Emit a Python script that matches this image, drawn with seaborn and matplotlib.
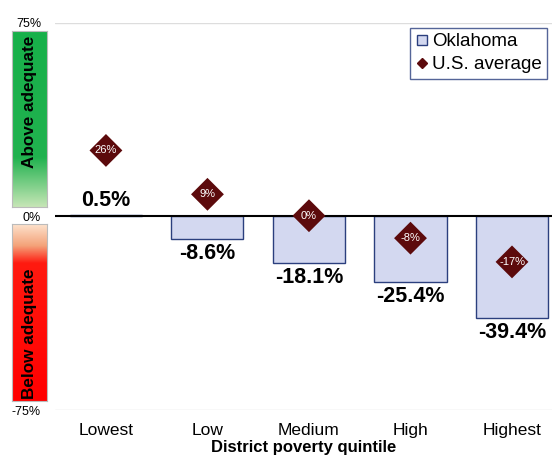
import numpy as np
import matplotlib
matplotlib.use("Agg")
import matplotlib.pyplot as plt
import seaborn as sns
from matplotlib.colors import LinearSegmentedColormap
from matplotlib.lines import Line2D

sns.set_style("white")
plt.rcParams['font.family'] = ['Liberation Sans', 'DejaVu Sans']
plt.rcParams['text.color'] = 'black'
plt.rcParams['axes.labelcolor'] = 'black'
plt.rcParams['xtick.color'] = 'black'
plt.rcParams['ytick.color'] = 'black'

# Data
quintiles = ['Lowest', 'Low', 'Medium', 'High', 'Highest']
oklahoma = [0.5, -8.6, -18.1, -25.4, -39.4]
us_average = [25.6, 8.6, 0.3, -8.4, -17.6]
us_labels = ['26%', '9%', '0%', '-8%', '-17%']

bar_face = '#d3d8f0'
bar_edge = '#2b3f7e'
diamond_col = '#5c0a0c'

fig = plt.figure(figsize=(5.52, 4.55), dpi=100)
ax = fig.add_axes([0.0996, 0.0989, 0.9004, 0.8506])

sns.barplot(x=quintiles, y=oklahoma, color=bar_face, edgecolor=bar_edge,
            linewidth=1.0, saturation=1, width=0.71, ax=ax, zorder=2)
ax.axhline(0, color='black', lw=1.5, zorder=2.5)
sns.scatterplot(x=np.arange(len(quintiles)), y=us_average, marker='D', s=280,
                color=diamond_col, edgecolor='none', ax=ax, zorder=4, legend=False)

for i, (v, lab) in enumerate(zip(us_average, us_labels)):
    ax.text(i, v, lab, color='white', fontsize=8, ha='center', va='center', zorder=5)

for i, v in enumerate(oklahoma):
    if v >= 0:
        ax.annotate(f'{v:.1f}%', (i, v), xytext=(0, 3), textcoords='offset points',
                    ha='center', va='bottom', fontsize=15.5, fontweight='bold')
    else:
        ax.annotate(f'{v:.1f}%', (i, v), xytext=(0, -3), textcoords='offset points',
                    ha='center', va='top', fontsize=15.5, fontweight='bold')

ax.set_ylim(-75, 75)
ax.set_xlim(-0.502, 4.394)
ax.set_yticks([-75, 0, 75])
ax.set_yticklabels(['-75%', '0%', '75%'], fontsize=9)
ax.tick_params(axis='y', length=0, pad=10)
ax.tick_params(axis='x', length=0, labelsize=12.5, pad=9)
for y in (-75, 75):
    ax.axhline(y, color='#dddddd', lw=1, zorder=0)
for s in ax.spines.values():
    s.set_visible(False)
ax.set_xlabel('District poverty quintile', fontsize=12, fontweight='bold', labelpad=2)

handles = [
    Line2D([], [], marker='s', ls='none', markersize=6.5, markerfacecolor=bar_face,
           markeredgecolor=bar_edge, label='Oklahoma'),
    Line2D([], [], marker='D', ls='none', markersize=5, color=diamond_col,
           label='U.S. average'),
]
leg = ax.legend(handles=handles, loc='upper right', bbox_to_anchor=(0.99, 0.988),
                fontsize=13.5, frameon=True, fancybox=False, handletextpad=0.15,
                handlelength=0.7, borderpad=0.3, labelspacing=0.3, borderaxespad=0)
leg.get_frame().set_edgecolor(bar_edge)
leg.get_frame().set_linewidth(1.0)

# Side gradient bars
green = LinearSegmentedColormap.from_list(
    'g', [(0, '#c6e6b6'), (0.28, '#21b24f'), (1, '#18b04a')])
red = LinearSegmentedColormap.from_list(
    'r', [(0, '#fde2cc'), (0.12, '#f4a37a'), (0.22, '#ff1a10'), (1, '#ff0000')])
grad = np.linspace(0, 1, 256).reshape(-1, 1)

gax = fig.add_axes([0.0217, 0.5451, 0.0634, 0.3868])
gax.imshow(grad, cmap=green, aspect='auto', origin='lower', extent=[0, 1, 0, 1])
gax.text(0.5, 0.6, 'Above adequate', rotation=90, ha='center', va='center',
         fontsize=12.3, fontweight='bold')
rax = fig.add_axes([0.0217, 0.1187, 0.0634, 0.389])
rax.imshow(grad[::-1], cmap=red, aspect='auto', origin='lower', extent=[0, 1, 0, 1])
rax.text(0.5, 0.38, 'Below adequate', rotation=90, ha='center', va='center',
         fontsize=12.3, fontweight='bold')
for a in (gax, rax):
    a.set_xticks([])
    a.set_yticks([])
    for s in a.spines.values():
        s.set_color('#bbbbbb')

fig.savefig('out.png', dpi=100)
